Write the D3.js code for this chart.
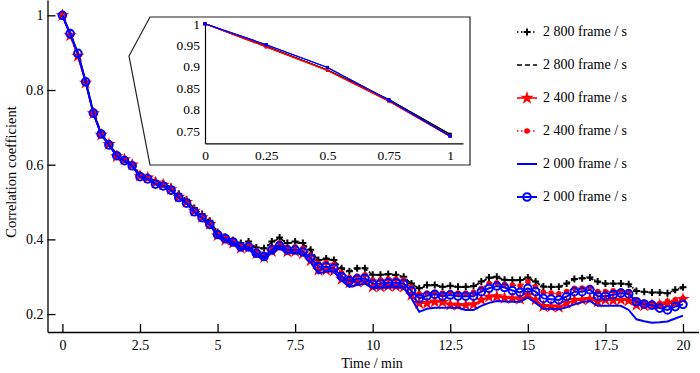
<!DOCTYPE html>
<html>
<head>
<meta charset="utf-8">
<script src="https://cdn.jsdelivr.net/npm/d3@7"></script>
<style>
  body { margin: 0; background: #fff; }
  svg, svg text { font-family: "Liberation Serif", "Times New Roman", Times, "DejaVu Serif", serif !important; }
</style>
</head>
<body>
<div id="chart-area"></div>
<script>
// time axis: one sample every 0.25 min, 0 .. 20
var times = d3.range(0, 20.001, 0.25);

var labels = ["2 800 frame / s", "2 800 frame / s", "2 400 frame / s", "2 400 frame / s", "2 000 frame / s", "2 000 frame / s"];

var black2800a = [1.000, 0.947, 0.892, 0.823, 0.742, 0.685, 0.657, 0.628, 0.615, 0.602,
    0.574, 0.568, 0.556, 0.550, 0.540, 0.522, 0.506, 0.484, 0.468, 0.450,
    0.420, 0.407, 0.398, 0.390, 0.394, 0.378, 0.376, 0.394, 0.405, 0.390,
    0.394, 0.390, 0.372, 0.345, 0.349, 0.345, 0.323, 0.315, 0.323, 0.323,
    0.305, 0.305, 0.307, 0.305, 0.300, 0.282, 0.269, 0.278, 0.278, 0.273,
    0.276, 0.273, 0.273, 0.275, 0.287, 0.298, 0.300, 0.292, 0.291, 0.291,
    0.298, 0.287, 0.274, 0.273, 0.273, 0.282, 0.294, 0.296, 0.298, 0.287,
    0.282, 0.282, 0.282, 0.280, 0.262, 0.260, 0.258, 0.258, 0.256, 0.265, 0.272];

var black2800b = [1.000, 0.947, 0.892, 0.823, 0.742, 0.684, 0.656, 0.627, 0.614, 0.601,
    0.573, 0.567, 0.555, 0.549, 0.539, 0.521, 0.505, 0.483, 0.467, 0.449,
    0.419, 0.406, 0.397, 0.389, 0.392, 0.377, 0.375, 0.392, 0.403, 0.389,
    0.392, 0.388, 0.370, 0.344, 0.347, 0.344, 0.322, 0.314, 0.321, 0.322,
    0.304, 0.304, 0.306, 0.304, 0.299, 0.281, 0.268, 0.276, 0.277, 0.272,
    0.275, 0.272, 0.272, 0.274, 0.286, 0.296, 0.298, 0.291, 0.290, 0.290,
    0.296, 0.286, 0.273, 0.272, 0.272, 0.281, 0.292, 0.295, 0.296, 0.286,
    0.281, 0.281, 0.281, 0.279, 0.261, 0.259, 0.257, 0.257, 0.255, 0.263, 0.270];

var red2400a = [1.000, 0.946, 0.891, 0.819, 0.737, 0.680, 0.655, 0.622, 0.614, 0.600,
    0.570, 0.565, 0.552, 0.546, 0.534, 0.514, 0.500, 0.476, 0.459, 0.441,
    0.410, 0.398, 0.390, 0.377, 0.378, 0.362, 0.352, 0.368, 0.380, 0.367,
    0.368, 0.362, 0.343, 0.318, 0.318, 0.316, 0.294, 0.284, 0.286, 0.287,
    0.273, 0.273, 0.275, 0.274, 0.272, 0.251, 0.229, 0.229, 0.233, 0.232,
    0.225, 0.224, 0.224, 0.226, 0.238, 0.246, 0.247, 0.243, 0.242, 0.240,
    0.251, 0.238, 0.221, 0.220, 0.219, 0.229, 0.237, 0.238, 0.240, 0.233,
    0.238, 0.237, 0.238, 0.236, 0.224, 0.223, 0.224, 0.224, 0.228, 0.230, 0.240];

var red2400b = [1.000, 0.946, 0.891, 0.820, 0.738, 0.680, 0.655, 0.622, 0.612, 0.600,
    0.572, 0.566, 0.553, 0.547, 0.537, 0.517, 0.502, 0.479, 0.462, 0.444,
    0.416, 0.404, 0.396, 0.384, 0.386, 0.369, 0.360, 0.378, 0.390, 0.378,
    0.380, 0.376, 0.358, 0.336, 0.338, 0.333, 0.310, 0.298, 0.302, 0.305,
    0.291, 0.292, 0.294, 0.294, 0.292, 0.272, 0.254, 0.256, 0.258, 0.256,
    0.258, 0.256, 0.256, 0.258, 0.269, 0.282, 0.284, 0.280, 0.278, 0.276,
    0.287, 0.273, 0.258, 0.256, 0.254, 0.260, 0.269, 0.270, 0.272, 0.260,
    0.260, 0.262, 0.262, 0.260, 0.236, 0.231, 0.229, 0.228, 0.234, 0.238, 0.242];

var blue2000a = [1.000, 0.951, 0.898, 0.822, 0.738, 0.682, 0.653, 0.624, 0.611, 0.597,
    0.568, 0.562, 0.548, 0.543, 0.532, 0.512, 0.497, 0.474, 0.458, 0.440,
    0.407, 0.398, 0.388, 0.374, 0.374, 0.356, 0.348, 0.366, 0.378, 0.364,
    0.364, 0.360, 0.338, 0.309, 0.314, 0.314, 0.290, 0.273, 0.278, 0.282,
    0.269, 0.270, 0.271, 0.271, 0.270, 0.242, 0.206, 0.214, 0.217, 0.217,
    0.217, 0.217, 0.211, 0.211, 0.222, 0.230, 0.235, 0.234, 0.233, 0.233,
    0.244, 0.230, 0.214, 0.214, 0.213, 0.218, 0.226, 0.232, 0.235, 0.222,
    0.222, 0.222, 0.222, 0.211, 0.186, 0.181, 0.177, 0.178, 0.180, 0.188, 0.196];

var blue2000b = [1.000, 0.951, 0.898, 0.822, 0.738, 0.682, 0.653, 0.624, 0.611, 0.597,
    0.568, 0.562, 0.548, 0.543, 0.532, 0.512, 0.497, 0.474, 0.458, 0.440,
    0.413, 0.402, 0.393, 0.380, 0.380, 0.363, 0.354, 0.372, 0.383, 0.372,
    0.372, 0.367, 0.350, 0.327, 0.327, 0.323, 0.300, 0.289, 0.294, 0.296,
    0.281, 0.282, 0.284, 0.284, 0.282, 0.262, 0.242, 0.249, 0.253, 0.248,
    0.251, 0.248, 0.248, 0.248, 0.260, 0.269, 0.275, 0.271, 0.263, 0.258,
    0.269, 0.260, 0.242, 0.240, 0.238, 0.247, 0.260, 0.260, 0.265, 0.248,
    0.248, 0.252, 0.256, 0.254, 0.233, 0.227, 0.224, 0.216, 0.211, 0.220, 0.226];

var xTicks = [0, 2.5, 5, 7.5, 10, 12.5, 15, 17.5, 20];
var yTicks = [0.2, 0.4, 0.6, 0.8, 1];
var insetXTicks = [0, 0.25, 0.5, 0.75, 1];
var insetYTicks = [0.75, 0.8, 0.85, 0.9, 0.95, 1];

var series = [
    { label: labels[0], values: black2800a, color: "#000", dash: "1.5,2.5", width: 1.6, marker: "plus" },
    { label: labels[1], values: black2800b, color: "#000", dash: "5,3", width: 1.6, marker: null },
    { label: labels[2], values: red2400a, color: "#ff0000", dash: null, width: 1.6, marker: "star" },
    { label: labels[3], values: red2400b, color: "#ff0000", dash: "1.5,2.5", width: 1.6, marker: "dot" },
    { label: labels[4], values: blue2000a, color: "#0000ff", dash: null, width: 2, marker: null },
    { label: labels[5], values: blue2000b, color: "#0000ff", dash: null, width: 2, marker: "circle" }
];

var FONT = '"Liberation Serif", "Times New Roman", Times, "DejaVu Serif", serif';
var W = 700, H = 373;

var svg = d3.select("#chart-area")
    .append("svg")
    .attr("width", W)
    .attr("height", H)
    .attr("font-family", FONT);

var x = d3.scaleLinear().domain([-0.48, 20.5]).range([47.5, 698.5]);
var y = d3.scaleLinear().domain([0.152, 1.041]).range([332, 0]);

function drawMarker(g, type, color, scale) {
    var s = scale || 1;
    if (type === "plus") {
        g.append("path")
            .attr("d", `M${-3.5 * s},0H${3.5 * s}M0,${-3.5 * s}V${3.5 * s}`)
            .attr("stroke", color).attr("stroke-width", 2 * s).attr("fill", "none");
    } else if (type === "star") {
        g.append("path")
            .attr("d", d3.symbol().type(d3.symbolStar).size(55 * s * s)())
            .attr("fill", color);
    } else if (type === "dot") {
        g.append("circle").attr("r", 2.8 * s).attr("fill", color);
    } else if (type === "circle") {
        g.append("circle").attr("r", 3.8 * s)
            .attr("fill", "none").attr("stroke", color).attr("stroke-width", 2 * s);
    }
}

// axes
var xAxis = d3.axisBottom(x).tickValues(xTicks).tickSizeInner(-8).tickSizeOuter(0).tickPadding(8).tickFormat(d3.format("~g"));
var yAxis = d3.axisLeft(y).tickValues(yTicks).tickSizeInner(-8).tickSizeOuter(0).tickPadding(4).tickFormat(d3.format("~g"));

svg.append("g")
    .attr("class", "x-axis")
    .attr("transform", "translate(0,332)")
    .call(xAxis);

svg.append("g")
    .attr("class", "y-axis")
    .attr("transform", "translate(47.5,0)")
    .call(yAxis);

svg.selectAll(".x-axis, .y-axis").attr("font-family", FONT);
svg.selectAll(".x-axis .domain, .y-axis .domain").attr("stroke", "#000").attr("stroke-width", 1.3);
svg.selectAll(".x-axis line, .y-axis line").attr("stroke", "#000").attr("stroke-width", 1.3);
svg.selectAll(".x-axis text, .y-axis text")
    .attr("font-size", "14px")
    .attr("fill", "#000");

svg.append("text")
    .attr("x", 372)
    .attr("y", 368)
    .attr("text-anchor", "middle")
    .attr("font-size", "14px")
    .text("Time / min");

svg.append("text")
    .attr("transform", "rotate(-90)")
    .attr("x", -172)
    .attr("y", 16)
    .attr("text-anchor", "middle")
    .attr("font-size", "14.5px")
    .text("Correlation coefficient");

// main series
var line = d3.line().x((d, i) => x(times[i])).y(d => y(d));

series.forEach(s => {
    svg.append("path")
        .attr("d", line(s.values))
        .attr("fill", "none")
        .attr("stroke", s.color)
        .attr("stroke-width", s.width)
        .attr("stroke-dasharray", s.dash);
    if (s.marker) {
        s.values.forEach((v, i) => {
            var g = svg.append("g").attr("transform", `translate(${x(times[i])},${y(v)})`);
            drawMarker(g, s.marker, s.color);
        });
    }
});

// inset
var inset = svg.append("g").attr("class", "inset");

inset.append("path")
    .attr("d", "M150,17H470V165H150L129,56Z")
    .attr("fill", "#fff")
    .attr("stroke", "#222")
    .attr("stroke-width", 1.2);

var ix = d3.scaleLinear().domain([0, 1.053]).range([205, 463]);
var iy = d3.scaleLinear().domain([0.721, 1.004]).range([143.3, 22]);

var ixAxis = d3.axisBottom(ix).tickValues(insetXTicks).tickSize(0).tickPadding(7).tickFormat(d3.format("~g"));
var iyAxis = d3.axisLeft(iy).tickValues(insetYTicks).tickSize(0).tickPadding(5).tickFormat(d3.format("~g"));

inset.append("g").attr("transform", "translate(0,143.3)").call(ixAxis);
inset.append("g").attr("transform", "translate(205,0)").call(iyAxis);
inset.selectAll("g").attr("font-family", FONT);
inset.selectAll(".domain").attr("stroke", "#000").attr("stroke-width", 1.2);
inset.selectAll("text")
    .attr("font-size", "13.5px")
    .attr("fill", "#000");

var iline = d3.line().x((d, i) => ix(times[i])).y(d => iy(d));
var nInset = 5;

series.forEach(s => {
    var vals = s.values.slice(0, nInset);
    inset.append("path")
        .attr("d", iline(vals))
        .attr("fill", "none")
        .attr("stroke", s.color)
        .attr("stroke-width", 1.2);
    vals.forEach((v, i) => {
        inset.append("rect")
            .attr("x", ix(times[i]) - 1.5)
            .attr("y", iy(v) - 1.5)
            .attr("width", 3)
            .attr("height", 3)
            .attr("fill", s.color);
    });
});

// legend
var legend = svg.append("g").attr("class", "legend").attr("transform", "translate(517,36)");

var legendRow = legend.selectAll(".legend-row")
    .data(series)
    .enter()
    .append("g")
    .attr("class", "legend-row")
    .attr("transform", (d, i) => `translate(0,${i * 33})`);

legendRow.append("line")
    .attr("x1", 0).attr("x2", 20)
    .attr("y1", -4).attr("y2", -4)
    .attr("stroke", d => d.color)
    .attr("stroke-width", d => d.width)
    .attr("stroke-dasharray", d => d.dash);

legendRow.each(function (d) {
    if (d.marker) {
        var g = d3.select(this).append("g").attr("transform", "translate(10,-4)");
        drawMarker(g, d.marker, d.color);
    }
});

legendRow.append("text")
    .attr("x", 26)
    .attr("y", 0)
    .attr("font-size", "14px")
    .attr("fill", "#000")
    .text(d => d.label);
</script>
</body>
</html>
